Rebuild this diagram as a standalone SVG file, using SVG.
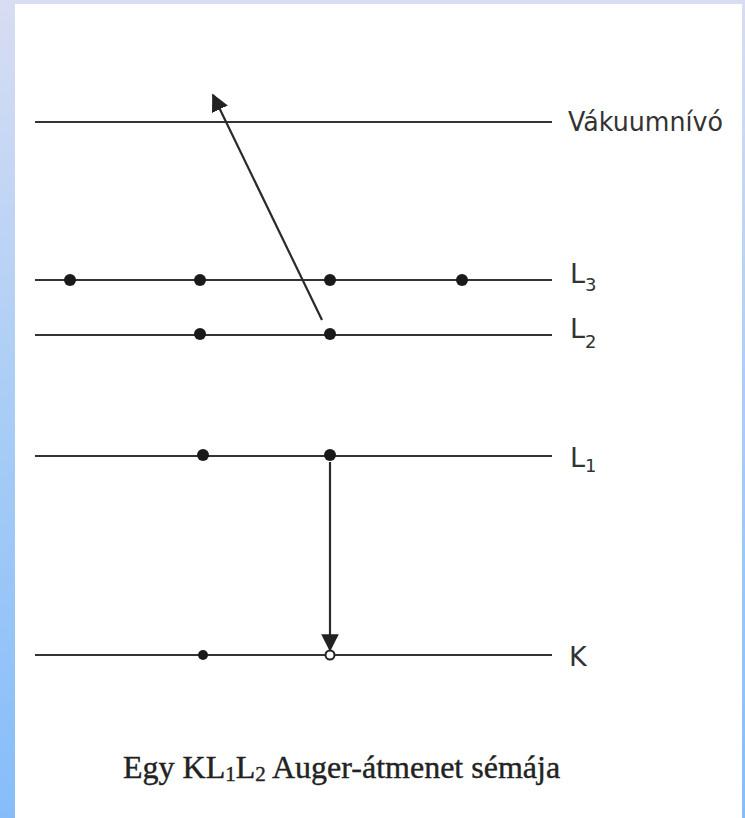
<svg xmlns="http://www.w3.org/2000/svg" width="745" height="818" viewBox="0 0 745 818">
<defs>
<linearGradient id="bg" x1="0" y1="0" x2="0" y2="1">
<stop offset="0" stop-color="#d8ddf2"/>
<stop offset="0.5" stop-color="#a9cdf6"/>
<stop offset="1" stop-color="#86bdf9"/>
</linearGradient>
<marker id="ah" viewBox="0 0 10 10" refX="9" refY="5" markerWidth="8" markerHeight="8" orient="auto" markerUnits="strokeWidth">
<path d="M0,0 L10,5 L0,10 z" fill="#222"/>
</marker>
</defs>
<style>
.lvl{stroke:#333;stroke-width:2;fill:none}
.dot{fill:#1a1a1a}
.arr{stroke:#2a2a2a;stroke-width:2.2;fill:none;marker-end:url(#ah)}
.lab{font-family:"DejaVu Sans","Liberation Sans",sans-serif;font-size:27px;fill:#333}
.sub{font-size:18px}
.cap{font-family:"Liberation Serif","DejaVu Serif",serif;font-size:32px;fill:#222;stroke:#222;stroke-width:0.4}
</style>
<rect x="0" y="0" width="745" height="818" fill="url(#bg)"/>
<rect x="15" y="4" width="727" height="814" fill="#ffffff"/>
<g id="vakuum">
<line class="lvl" x1="35" y1="122" x2="552" y2="122"/>
<text class="lab" x="568" y="131" textLength="155" lengthAdjust="spacingAndGlyphs">Vákuumnívó</text>
</g>
<g id="L3">
<line class="lvl" x1="35" y1="280" x2="552" y2="280" stroke-width="1.6"/>
<circle class="dot" cx="70" cy="280" r="6"/>
<circle class="dot" cx="200" cy="280" r="6"/>
<circle class="dot" cx="330" cy="280" r="6"/>
<circle class="dot" cx="462" cy="280" r="6"/>
<text class="lab" x="570" y="283">L<tspan class="sub" dy="8">3</tspan></text>
</g>
<g id="L2">
<line class="lvl" x1="35" y1="335" x2="552" y2="335"/>
<circle class="dot" cx="200" cy="334" r="6"/>
<circle class="dot" cx="330" cy="334" r="6"/>
<text class="lab" x="570" y="338">L<tspan class="sub" dy="10">2</tspan></text>
</g>
<g id="L1">
<line class="lvl" x1="35" y1="456" x2="552" y2="456" stroke-width="1.6"/>
<circle class="dot" cx="203" cy="455" r="6"/>
<circle class="dot" cx="330" cy="455" r="6"/>
<text class="lab" x="570" y="467">L<tspan class="sub" dy="5">1</tspan></text>
</g>
<g id="K">
<line class="lvl" x1="35" y1="655" x2="552" y2="655" stroke-width="1.6"/>
<circle class="dot" cx="203" cy="655" r="5"/>
<circle cx="330" cy="655" r="4.5" fill="#fff" stroke="#222" stroke-width="2"/>
<text class="lab" x="569" y="666" font-size="25">K</text>
</g>
<g id="connectors">
<line class="arr" x1="322" y1="320" x2="213" y2="95"/>
<line class="arr" x1="330" y1="462" x2="330" y2="650"/>
</g>
<text class="cap" x="123" y="778">Egy KL<tspan font-size="21" dy="3">1</tspan><tspan dy="-3">L</tspan><tspan font-size="21" dy="3">2</tspan><tspan dy="-3"> Auger-átmenet sémája</tspan></text>
</svg>
